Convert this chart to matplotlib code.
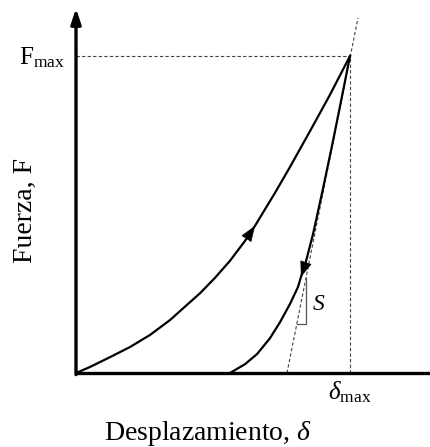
import matplotlib
matplotlib.use("Agg")
import matplotlib.pyplot as plt

plt.rcParams['font.family'] = ['Liberation Serif', 'DejaVu Serif']
plt.rcParams['mathtext.fontset'] = 'custom'
plt.rcParams['mathtext.rm'] = 'Liberation Serif'
plt.rcParams['mathtext.it'] = 'Liberation Serif:italic'

# Normalised displacement / force (delta / delta_max, F / F_max)
loading_d = [0.0, 0.051, 0.124, 0.197, 0.270, 0.343, 0.405, 0.453, 0.507, 0.562,
             0.617, 0.653, 0.726, 0.781, 0.854, 0.927, 1.0]
loading_f = [0.0, 0.019, 0.050, 0.082, 0.120, 0.167, 0.215, 0.252, 0.300, 0.354,
             0.417, 0.464, 0.568, 0.650, 0.763, 0.878, 1.0]

unloading_d = [1.0, 0.971, 0.938, 0.901, 0.865, 0.836, 0.821, 0.810, 0.781, 0.745,
               0.708, 0.661, 0.617, 0.562]
unloading_f = [1.0, 0.874, 0.732, 0.580, 0.438, 0.341, 0.303, 0.271, 0.218, 0.161,
               0.110, 0.060, 0.028, 0.0]

# Tangent to the unloading curve at the peak (stiffness S)
tangent_d = [0.770, 1.029]
tangent_f = [0.0, 1.120]

d_max = 1.0
f_max = 1.0

fig = plt.figure(figsize=(4.31, 4.47), dpi=100)
ax = fig.add_axes([0, 0, 1, 1])
ax.set_xlim(-0.2774, 1.2956)
ax.set_ylim(-0.2334, 1.1767)
ax.axis('off')

k = 'black'
# Axes with arrow on the force axis
ax.plot([0, 1.2956], [0, 0], color=k, lw=2.4, solid_capstyle='butt', zorder=5)
ax.annotate('', xy=(0, 1.150), xytext=(0, -0.005),
            arrowprops=dict(arrowstyle='-|>,head_length=0.75,head_width=0.25',
                            mutation_scale=12, color=k, lw=2.4,
                            shrinkA=0, shrinkB=0), zorder=5)

# Reference dashed lines
dash = dict(color='#444444', lw=0.8, ls=(0, (3, 2)))
ax.plot([0, d_max], [f_max, f_max], **dash)
ax.plot([d_max, d_max], [0, f_max], **dash)
ax.plot(tangent_d, tangent_f, **dash)

# Loading / unloading curves
ax.plot(loading_d, loading_f, color=k, lw=1.6, solid_joinstyle='round')
ax.plot(unloading_d, unloading_f, color=k, lw=1.6, solid_joinstyle='round')

# Direction arrows
arr = dict(arrowstyle='-|>,head_length=0.85,head_width=0.32', mutation_scale=12,
           color=k, lw=0.5, shrinkA=0, shrinkB=0)
ax.annotate('', xy=(loading_d[11], loading_f[11]), xytext=(loading_d[10], loading_f[10]),
            arrowprops=arr)
ax.annotate('', xy=(unloading_d[6], unloading_f[6]), xytext=(unloading_d[5], unloading_f[5]),
            arrowprops=arr)

# Slope triangle
tri_top = 0.300
tri_bot = 0.155
x_top = tangent_d[0] + (tangent_d[1] - tangent_d[0]) * tri_top / tangent_f[1]
x_bot = tangent_d[0] + (tangent_d[1] - tangent_d[0]) * tri_bot / tangent_f[1]
ax.plot([x_top, x_top, x_bot], [tri_top, tri_bot, tri_bot], color='#555555', lw=0.9)
ax.text(x_top + 0.025, 0.215, 'S', fontsize=17, style='italic', ha='left', va='center')

# Labels
ax.text(-0.125, f_max - 0.005, r'F$_{\mathrm{max}}$', fontsize=18, ha='center', va='center')
ax.text(d_max, -0.06, r'$\delta_{\mathrm{max}}$', fontsize=18, ha='center', va='center')
ax.text(-0.186, 0.514, 'Fuerza, F', fontsize=20, rotation=90, ha='center', va='center')
ax.text(0.482, -0.19, r'Desplazamiento, $\delta$', fontsize=20, ha='center', va='center')

fig.savefig('out.png', dpi=100)
